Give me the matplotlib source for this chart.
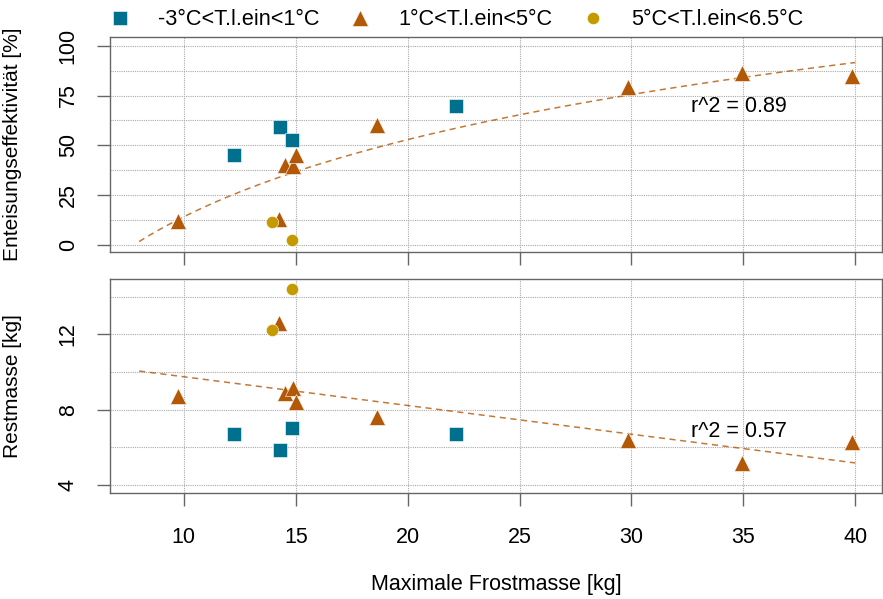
import numpy as np
import matplotlib
matplotlib.use("Agg")
import matplotlib.pyplot as plt
from matplotlib.lines import Line2D
from matplotlib.ticker import MultipleLocator

plt.rcParams['font.family'] = ['Liberation Sans', 'DejaVu Sans']

# data
labels = ["-3°C<T.l.ein<1°C", "1°C<T.l.ein<5°C", "5°C<T.l.ein<6.5°C"]
colors = ["#00708f", "#b35806", "#c49a00"]
markers = ["s", "^", "o"]
msizes = [9.8, 12, 8.8]

x_cold = [12.25, 14.29, 14.84, 22.15]
x_mid = [9.75, 14.25, 14.5, 14.88, 15.03, 18.65, 29.84, 34.94, 39.85]
x_warm = [13.94, 14.82]

eff_cold = [45.2, 59.0, 52.5, 69.8]
eff_mid = [12.2, 12.9, 40.0, 39.6, 45.0, 60.0, 79.1, 86.1, 84.8]
eff_warm = [11.7, 2.5]

rest_cold = [6.70, 5.85, 7.03, 6.68]
rest_mid = [8.72, 12.58, 8.90, 9.13, 8.42, 7.62, 6.38, 5.14, 6.26]
rest_warm = [12.23, 14.41]

# trend lines (coefficients)
fit_x = (8.0, 40.0)
eff_fit = (-114.3, 55.8)      # a + b*ln(x)
rest_fit = (11.27, -0.1525)   # a + b*x
r2_labels = ["r^2 = 0.89", "r^2 = 0.57"]

FS = 15.5

fig = plt.figure(figsize=(8.83, 5.99), dpi=100)
ax1 = fig.add_axes([0.1246, 0.5793, 0.8743, 0.3581])
ax2 = fig.add_axes([0.1246, 0.1775, 0.8743, 0.3562])

groups_top = [(x_cold, eff_cold), (x_mid, eff_mid), (x_warm, eff_warm)]
groups_bot = [(x_cold, rest_cold), (x_mid, rest_mid), (x_warm, rest_warm)]

xs = np.linspace(fit_x[0], fit_x[1], 100)
line_kw = dict(color="#b35806", lw=1.1, alpha=0.8, dashes=(4, 3), zorder=2)
ax1.plot(xs, eff_fit[0] + eff_fit[1] * np.log(xs), **line_kw)
ax2.plot(xs, rest_fit[0] + rest_fit[1] * xs, **line_kw)

for ax, groups in [(ax1, groups_top), (ax2, groups_bot)]:
    for (gx, gy), c, m, s in zip(groups, colors, markers, msizes):
        ax.plot(gx, gy, linestyle="none", marker=m, color=c, ms=s,
                mec="white", mew=0.4, zorder=3)
    ax.set_xlim(6.7, 41.2)
    ax.xaxis.set_major_locator(MultipleLocator(5))
    ax.grid(True, which="both", color="#aaaaaa", linestyle=(0, (1, 1)), lw=0.8, zorder=0)
    ax.grid(False, which="minor", axis="x")
    for sp in ax.spines.values():
        sp.set_color("#666666")
        sp.set_linewidth(1.0)
    ax.tick_params(axis="both", which="major", length=9.5, width=1.0,
                   color="#666666", labelsize=FS, direction="out")
    ax.tick_params(axis="x", which="minor", bottom=False)
    ax.tick_params(axis="y", which="minor", left=False)
    ax.set_axisbelow(True)

ax1.set_ylim(-3.5, 104.1)
ax1.yaxis.set_major_locator(MultipleLocator(25))
ax1.yaxis.set_minor_locator(MultipleLocator(12.5))
ax1.tick_params(axis="x", labelbottom=False)
ax1.tick_params(axis="y", pad=13)

ax2.set_ylim(3.59, 14.92)
ax2.yaxis.set_major_locator(MultipleLocator(4))
ax2.yaxis.set_minor_locator(MultipleLocator(2))
ax2.tick_params(axis="x", pad=15)
ax2.tick_params(axis="y", pad=13)

for ax in (ax1, ax2):
    for lab in ax.get_yticklabels():
        lab.set_rotation(90)
        lab.set_va("center")

ax1.text(32.65, 69.7, r2_labels[0], fontsize=FS, va="center", ha="left", zorder=4)
ax2.text(32.65, 6.82, r2_labels[1], fontsize=FS, va="center", ha="left", zorder=4)

ax1.set_ylabel("Enteisungseffektivität [%]", fontsize=15)
ax1.yaxis.set_label_coords(-0.114, 0.5)
ax2.set_ylabel("Restmasse [kg]", fontsize=15)
ax2.yaxis.set_label_coords(-0.114, 0.5)
ax2.set_xlabel("Maximale Frostmasse [kg]", fontsize=FS)
ax2.xaxis.set_label_coords(0.5, -0.38)

handles = [Line2D([], [], linestyle="none", marker=m, color=c, ms=s, mec="white", mew=0.4)
           for c, m, s in zip(colors, markers, msizes)]
fig.legend(handles, labels, loc="center left", bbox_to_anchor=(0.1233, 0.967),
           ncol=3, frameon=False, fontsize=15.6, handlelength=1.0,
           handletextpad=1.25, columnspacing=1.39, borderaxespad=0, borderpad=0)

fig.savefig("out.png", dpi=100)
